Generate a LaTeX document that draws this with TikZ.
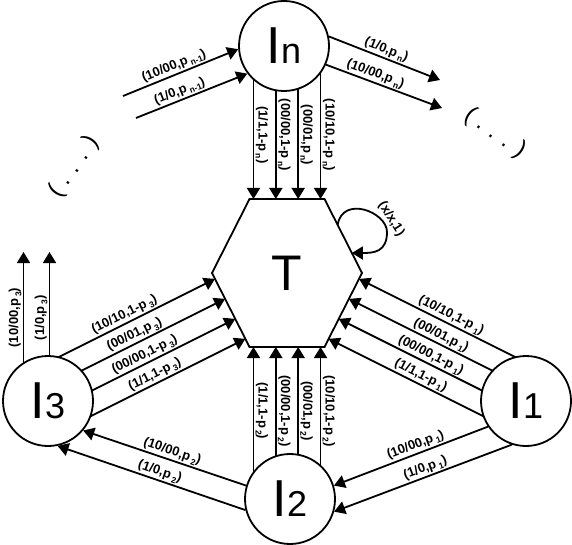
\documentclass[tikz,border=0pt]{standalone}
\usepackage{fontspec}
\setmainfont{Liberation Sans}
\usetikzlibrary{arrows.meta,calc,backgrounds}
\newcommand{\sx}[1]{\,\raisebox{-.45ex}{\fontsize{8.5}{8.5}\selectfont #1}}
\newcommand{\ix}[1]{I{\fontsize{36}{36}\selectfont #1}}

\begin{document}
\begin{tikzpicture}[x=1pt,y=-1pt,
  state/.style={circle,draw,line width=1.8pt,fill=white,minimum size=90pt,
                inner sep=0pt,font=\fontsize{52}{52}\selectfont},
  arr/.style={-{Triangle[length=11pt,width=13pt]},line width=1.8pt},
  lbl/.style={font=\fontsize{13}{13}\selectfont\bfseries,inner sep=1.2pt},
  vl/.style={lbl,rotate=-90,anchor=south},
  dots/.style={font=\fontsize{24}{24}\selectfont,inner sep=0pt}
]
\useasboundingbox (0,0) rectangle (572,545);

\node[state] (In) at (284,46) {\ix{n}};
\node[state] (I1) at (526,401) {\ix{1}};
\node[state] (I2) at (290,499) {\ix{2}};
\node[state] (I3) at (48,401) {\ix{3}};
\node[font=\fontsize{50}{50}\selectfont] (T) at (287,273) {T};

% hexagon round T
\coordinate (Tr) at ($(T)+(75,0)$);
\coordinate (Ttr) at ($(T)+(37.5,-74)$);
\coordinate (Ttl) at ($(T)+(-37.5,-74)$);
\coordinate (Tl) at ($(T)+(-75,0)$);
\coordinate (Tbl) at ($(T)+(-37.5,74)$);
\coordinate (Tbr) at ($(T)+(37.5,74)$);
\draw[line width=1.8pt] (Tr) -- (Ttr) -- (Ttl) -- (Tl) -- (Tbl) -- (Tbr) -- cycle;

\foreach \i in {0,...,3} {
  \coordinate (t\i) at ($(Ttl)!{0.053+0.298*\i}!(Ttr)$);
  \coordinate (b\i) at ($(Tbl)!{0.053+0.298*\i}!(Tbr)$);
  \coordinate (r\i) at ($(Tr)!{0.08+0.27*\i}!(Tbr)$);
  \coordinate (l\i) at ($(Tl)!{0.08+0.27*\i}!(Tbl)$);
}

\node[dots,rotate=55] (dl) at (74,167) {( . . . )};
\node[dots,rotate=-35] (dr) at (495,133) {( . . . )};

\coordinate (na) at ($(In)+(-161,50)$);
\coordinate (nb) at ($(In)+(-148,72)$);
\coordinate (xa) at ($(In)+(156,34)$);
\coordinate (xb) at ($(In)+(158,62)$);
\coordinate (ua) at ($(I3)+(-24.5,-149)$);
\coordinate (ub) at ($(I3)+(1.5,-149)$);
\coordinate (la) at ($(Ttr)!.35!(Tr)$);
\coordinate (lb) at ($(Ttr)!.73!(Tr)$);
\coordinate (lm) at ($(T)+(100,-41)$);

\begin{scope}[on background layer]
\foreach \txt [count=\i from 0] in {{(1/1,1-p\sx{n})},{(00/00,1-p\sx{n})},{(00/01,p\sx{n})},{(10/10,1-p\sx{n})}}
  \draw[arr] (t\i |- In) -- node[vl,pos=.58] {\txt} (t\i);
\foreach \txt [count=\i from 0] in {{(1/1,1-p\sx{2})},{(00/00,1-p\sx{2})},{(00/01,p\sx{2})},{(10/10,1-p\sx{2})}}
  \draw[arr] (b\i |- I2) -- node[vl,pos=.58] {\txt} (b\i);
\foreach \txt [count=\i from 0] in {{(10/10,1-p\sx{1})},{(00/01,p\sx{1})},{(00/00,1-p\sx{1})},{(1/1,1-p\sx{1})}}
  \draw[arr] ($(r\i)+(170,85)$) -- node[lbl,sloped,above,pos=.48] {\txt} (r\i);
\foreach \txt [count=\i from 0] in {{(10/10,1-p\sx{3})},{(00/01,p\sx{3})},{(00/00,1-p\sx{3})},{(1/1,1-p\sx{3})}}
  \draw[arr] ($(l\i)+(-170,85)$) -- node[lbl,sloped,above,pos=.49] {\txt} (l\i);
\draw[arr] (ua |- I3) -- node[lbl,rotate=90,anchor=south,pos=.56] {(10/00,p\sx{3})} (ua);
\draw[arr] (ub |- I3) -- node[lbl,rotate=90,anchor=south,pos=.56] {(1/0,p\sx{3})} (ub);
\end{scope}

\draw[arr] (na) -- node[lbl,sloped,above,pos=.47] {(10/00,p\sx{n-1})} (In.184);
\draw[arr] (nb) -- node[lbl,sloped,above,pos=.42] {(1/0,p\sx{n-1})} (In.217);
\draw[arr] (In.12) -- node[lbl,sloped,above,pos=.49] {(1/0,p\sx{n})} (xa);
\draw[arr] (In.-24) -- node[lbl,sloped,above,pos=.40] {(10/00,p\sx{n})} (xb);
\draw[arr] (I1.-146) -- node[lbl,sloped,above,pos=.45] {(10/00,p\sx{1})} (I2.17);
\draw[arr] (I1.-108) -- node[lbl,sloped,above,pos=.47] {(1/0,p\sx{1})} (I2.-16);
\draw[arr] (I2.163) -- node[lbl,sloped,above,pos=.47] {(10/00,p\sx{2})} (I3.-40);
\draw[arr] (I2.194) -- node[lbl,sloped,above,pos=.47] {(1/0,p\sx{2})} (I3.-78);
\draw[arr] (la) .. controls +(5,-30) and +(0,-20) .. (lm)
  node[lbl,sloped,above,pos=.85] {(x/x,1)} .. controls +(0,20) and +(22,0) .. (lb);
\end{tikzpicture}
\end{document}
